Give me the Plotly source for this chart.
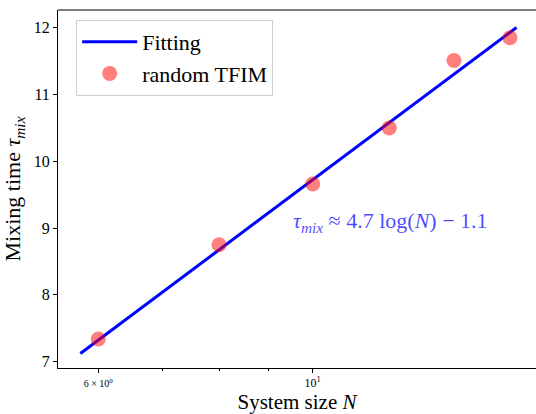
import numpy as np
import plotly.graph_objects as go

# Measured mixing times vs. system size
system_size = [6, 8, 10, 12, 14, 16]
mixing_time = [7.34, 8.75, 9.66, 10.50, 11.51, 11.85]

# Logarithmic fit: tau_mix = a*ln(N) + b
fit_a = 4.7
fit_b = -1.1
fit_n_min, fit_n_max = 5.75, 16.25

n_fit = np.linspace(fit_n_min, fit_n_max, 200)
tau_fit = fit_a * np.log(n_fit) + fit_b

FONT = "Liberation Serif"

fig = go.Figure()
fig.add_trace(go.Scatter(
    x=n_fit, y=tau_fit, mode="lines", name="Fitting",
    line=dict(color="#0000ff", width=3),
))
fig.add_trace(go.Scatter(
    x=system_size, y=mixing_time, mode="markers", name="random TFIM",
    marker=dict(color="rgba(255,0,0,0.5)", size=15, line=dict(width=0)),
))

fig.add_annotation(
    x=np.log10(9.5), y=9.09, xref="x", yref="y",
    text="<i>τ<sub>mix</sub></i> ≈ 4.7 log(<i>N</i>) − 1.1",
    showarrow=False, xanchor="left", yanchor="middle",
    font=dict(family=FONT, size=22, color="rgba(0,0,255,0.72)"),
)

fig.update_layout(
    width=536, height=414,
    margin=dict(l=58, r=0, t=10, b=46),
    paper_bgcolor="white", plot_bgcolor="white",
    font=dict(family=FONT, color="black"),
    showlegend=True,
    legend=dict(
        x=0.038, y=0.972, xanchor="left", yanchor="top",
        bordercolor="#d0d0d0", borderwidth=1,
        font=dict(family=FONT, size=22, color="black"),
        bgcolor="rgba(255,255,255,0.8)",
        itemwidth=55,
        tracegroupgap=0,
    ),
)

fig.update_xaxes(
    type="log", range=[0.7365, 1.231], automargin=False,
    showgrid=False, zeroline=False,
    showline=True, linecolor="black", linewidth=1, mirror=False,
    ticks="outside", ticklen=4, tickcolor="black",
    tickvals=[6, 10], ticktext=["<span style='font-size:10px'>6 × 10<sup>0</sup></span>", "10<sup>1</sup>"],
    tickfont=dict(family=FONT, size=12),
    minor=dict(tickvals=[7, 8, 9], ticks="outside", ticklen=2, tickcolor="black", showgrid=False),
    title=dict(text="System size <i>N</i>", font=dict(family=FONT, size=21)),
)
fig.update_yaxes(
    range=[6.905, 12.265], automargin=False,
    showgrid=False, zeroline=False,
    showline=True, linecolor="black", linewidth=1, mirror=False,
    ticks="outside", ticklen=4, tickcolor="black",
    tickvals=[7, 8, 9, 10, 11, 12],
    tickfont=dict(family=FONT, size=16),
    title=dict(text="Mixing time <i>τ<sub>mix</sub></i>", font=dict(family=FONT, size=22)),
)

# Top frame line
fig.add_shape(type="line", xref="paper", yref="paper", x0=0, x1=1, y0=1, y1=1,
              line=dict(color="black", width=1))

fig.write_html("out.html")
